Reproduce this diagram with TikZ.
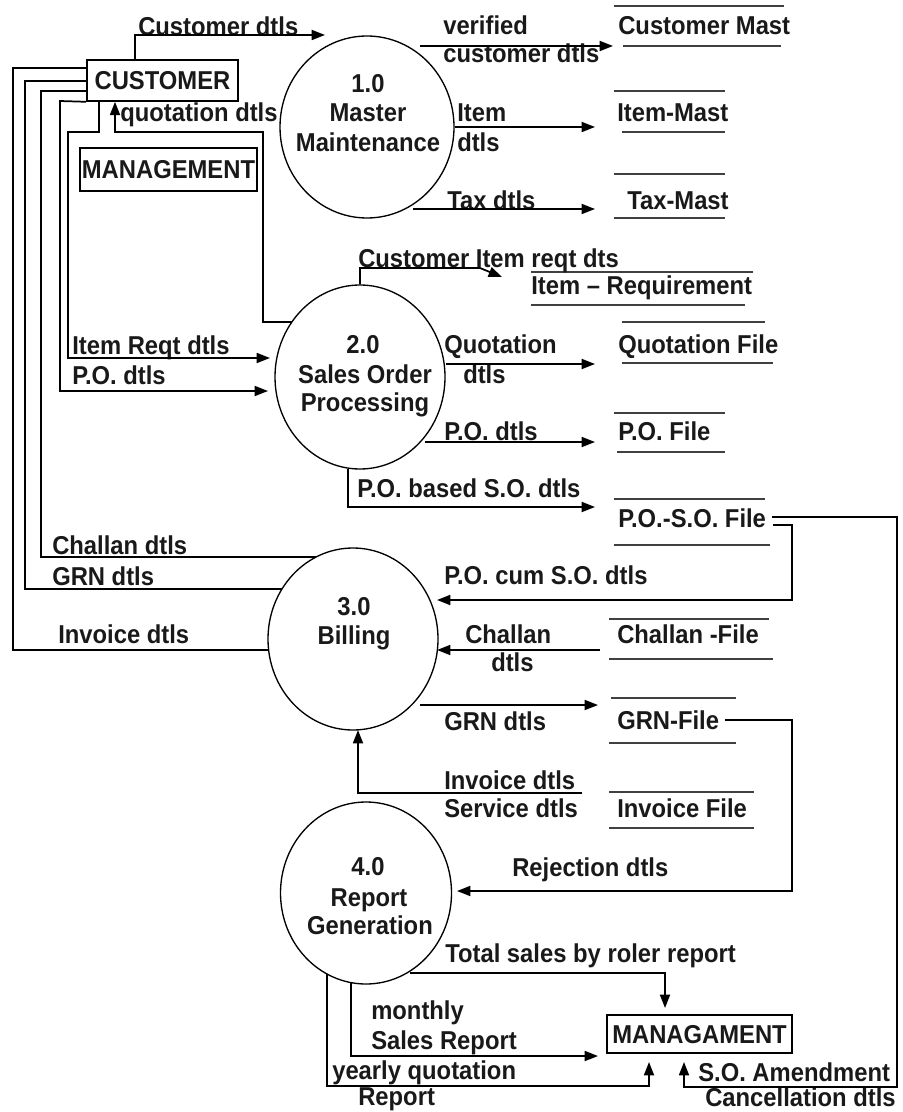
\documentclass[tikz,border=0pt]{standalone}
\usepackage{fontspec}
\setmainfont{Liberation Sans}[FakeStretch=0.92]
\usetikzlibrary{arrows.meta,shapes.geometric}
\newcommand\dfdfont{\fontsize{19.4}{22}\selectfont\bfseries}
\begin{document}
\begin{tikzpicture}[x=0.75pt,y=-0.75pt,
  every node/.style={font=\dfdfont, text=black!90},
  lbl/.style={inner sep=0pt, anchor=west, text height=14pt, text depth=0pt},
  ctr/.style={inner sep=0pt, text height=14pt, text depth=0pt},
  proc/.style={ellipse, draw, line width=1pt, inner sep=0pt},
  ent/.style={draw, line width=1.2pt, inner sep=0pt, text height=14pt, text depth=0pt},
  flow/.style={line width=1.3pt},
  arr/.style={flow, -{Triangle[length=10pt,width=7.5pt]}},
  sline/.style={line width=1.5pt, black!75},
]
\useasboundingbox (0,0) rectangle (902,1112);

% processes
\node[proc, minimum width=130.5pt, minimum height=136.5pt] (c1) at (367,127) {};
\node[proc, minimum width=127.5pt, minimum height=138pt] (c2) at (360,377) {};
\node[proc, minimum width=127.5pt, minimum height=136.5pt] (c3) at (353,639) {};
\node[proc, minimum width=128.25pt, minimum height=136.5pt] (c4) at (366,893) {};

\node[ctr] (c1a) at (368,83) {1.0};
\node[ctr] (c1b) at (368,112) {Master};
\node[ctr] (c1c) at (368,142) {Maintenance};
\node[ctr] (c2a) at (363,344) {2.0};
\node[ctr] (c2b) at (365,374) {Sales Order};
\node[ctr] (c2c) at (365,402) {Processing};
\node[ctr] (c3a) at (354,606) {3.0};
\node[ctr] (c3b) at (354,635) {Billing};
\node[ctr] (c4a) at (368,866) {4.0};
\node[ctr] (c4b) at (369,897) {Report};
\node[ctr] (c4c) at (370,925) {Generation};

% external entities
\node[ent, minimum width=113.25pt, minimum height=30.75pt] (cust) at (162.5,80.5) {CUSTOMER};
\node[ent, minimum width=132.75pt, minimum height=32.25pt] (mgmt) at (168.5,169.5) {MANAGEMENT};
\node[ent, minimum width=138.75pt, minimum height=28.5pt] (mgmt2) at (699.5,1034) {MANAGAMENT};

% data stores
\node[lbl] (sCM) at (618,25) {Customer Mast};
\draw[sline] (614,6) -- (784,6) (623,46) -- (781,46);
\node[lbl] (sIM) at (617,112) {Item-Mast};
\draw[sline] (614,91) -- (725,91) (622,132) -- (725,132);
\node[lbl] (sTM) at (627,200) {Tax-Mast};
\draw[sline] (614,174) -- (725,174) (614,218) -- (725,218);
\node[lbl] (sIR) at (531,285) {Item -- Requirement};
\draw[sline] (531,272) -- (753,272) (531,305) -- (745,305);
\node[lbl] (sQF) at (618,344) {Quotation File};
\draw[sline] (622,322) -- (765,322) (622,363) -- (773,363);
\node[lbl] (sPO) at (618,431) {P.O. File};
\draw[sline] (614,413) -- (725,413) (617,452) -- (725,452);
\node[lbl] (sPOSO) at (618,518) {P.O.-S.O. File};
\draw[sline] (614,499) -- (765,499) (614,545) -- (770,545);
\node[lbl] (sCF) at (617,634) {Challan -File};
\draw[sline] (609,619) -- (769,619) (609,659) -- (773,659);
\node[lbl] (sGRN) at (617,720) {GRN-File};
\draw[sline] (611,698) -- (736,698) (609,743) -- (736,743);
\node[lbl] (sIF) at (617,808) {Invoice File};
\draw[sline] (609,792) -- (754,792) (609,828) -- (754,828);

% flow labels
\node[lbl] (l1) at (138,26) {Customer dtls};
\node[lbl] (l2a) at (443,25) {verified};
\node[lbl] (l2b) at (443,53) {customer dtls};
\node[lbl] (l3) at (120,112) {quotation dtls};
\node[lbl] (l4a) at (457,112) {Item};
\node[lbl] (l4b) at (457,142) {dtls};
\node[lbl] (l5) at (447,200) {Tax dtls};
\node[lbl] (l6) at (358,258) {Customer Item reqt dts};
\node[lbl] (l7) at (72,345) {Item Reqt dtls};
\node[lbl] (l8) at (72,375) {P.O. dtls};
\node[lbl] (l9a) at (444,344) {Quotation};
\node[lbl] (l9b) at (463,374) {dtls};
\node[lbl] (l10) at (444,431) {P.O. dtls};
\node[lbl] (l11) at (357,488) {P.O. based S.O. dtls};
\node[lbl] (l12) at (52,545) {Challan dtls};
\node[lbl] (l13) at (52,576) {GRN dtls};
\node[lbl] (l14) at (58,634) {Invoice dtls};
\node[lbl] (l15) at (444,575) {P.O. cum S.O. dtls};
\node[lbl] (l16a) at (465,634) {Challan};
\node[lbl] (l16b) at (491,662) {dtls};
\node[lbl] (l17) at (444,721) {GRN dtls};
\node[lbl] (l18a) at (444,780) {Invoice dtls};
\node[lbl] (l18b) at (444,808) {Service dtls};
\node[lbl] (l19) at (512,867) {Rejection dtls};
\node[lbl] (l20) at (445,953) {Total sales by roler report};
\node[lbl] (l21a) at (371,1010) {monthly};
\node[lbl] (l21b) at (371,1040) {Sales Report};
\node[lbl] (l22a) at (332,1070) {yearly quotation};
\node[lbl] (l22b) at (358,1096) {Report};
\node[lbl] (l23a) at (698,1072) {S.O. Amendment};
\node[lbl] (l23b) at (705,1097) {Cancellation dtls};

% connectors
\draw[arr] (cust.north -| 135,0) -- (135,35) -- (325,35);
\draw[arr] (420,46) -- (613,46);
\draw[arr] (c1.east) -- (595,127);
\draw[arr] (413,209) -- (595,209);

\draw[flow] (cust.west |- 0,68) -- (13,68) -- (13,650) -- (269,650);
\draw[flow] (cust.west |- 0,81) -- (25,81) -- (25,589) -- (282,589);
\draw[flow] (cust.west |- 0,91) -- (41,91) -- (41,557) -- (316,557);
\draw[arr] (cust.south west) -- (60,101) -- (60,391) -- (268,391);
\draw[arr] (cust.south -| 99,0) -- (99,132) -- (68,132) -- (68,358) -- (270,358);
\draw[arr] (292,322) -- (263,322) -- (263,132) -- (115,132) -- (cust.south -| 115,0);

\draw[arr] (c2.north) -- (360,268) -- (480,268) -- (502,277);
\draw[arr] (c2.east |- 0,364) -- (595,364);
\draw[arr] (425,442) -- (595,442);
\draw[arr] (348,469) -- (348,507) -- (595,507);

\draw[arr] (772,517) -- (897,517) -- (897,1087) -- (684,1087) -- (684,1062);
\draw[arr] (773,525) -- (792,525) -- (792,600) -- (437,600);
\draw[arr] (600,650) -- (437,650);
\draw[arr] (420,705) -- (598,705);
\draw[arr] (725,720) -- (792,720) -- (792,891) -- (457,891);
\draw[arr] (582,793) -- (358,793) -- (358,730);

\draw[arr] (410,973) -- (665,973) -- (665,1008);
\draw[arr] (351,983) -- (351,1056) -- (598,1056);
\draw[arr] (327,974) -- (327,1086) -- (649,1086) -- (649,1062);
\end{tikzpicture}
\end{document}
